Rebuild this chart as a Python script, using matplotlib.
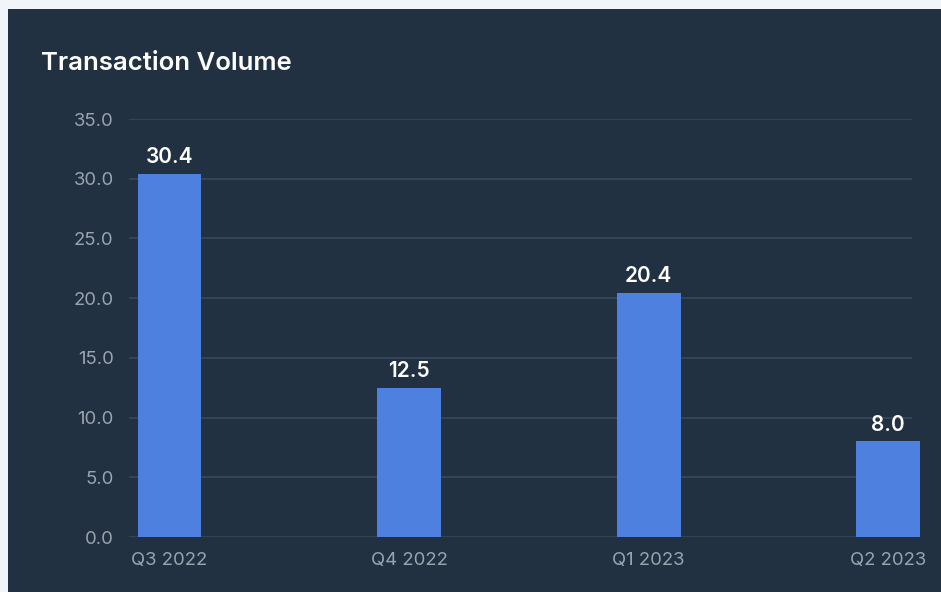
import matplotlib
matplotlib.use("Agg")
import matplotlib.pyplot as plt
from matplotlib.patches import Rectangle

categories = ["Q3 2022", "Q4 2022", "Q1 2023", "Q2 2023"]
values = [30.4, 12.5, 20.4, 8.0]
y_ticks = [0, 5, 10, 15, 20, 25, 30, 35]

BG_OUT = "#f1f4f8"
BG = "#213142"
GRID = "#34475a"
BAR = "#4e80e0"
TICK = "#9aa4af"

plt.rcParams['font.family'] = ['Inter', 'DejaVu Sans']

fig = plt.figure(figsize=(9.41, 5.92), dpi=100)
fig.patch.set_facecolor(BG_OUT)
fig.patches.append(Rectangle((8/941, 0), 1, 1 - 9/592, transform=fig.transFigure,
                             facecolor=BG, edgecolor='none', zorder=-10))

ax = fig.add_axes([129/941, 55/592, 783/941, (537-119)/592])
ax.set_facecolor('none')
x = list(range(len(categories)))
bars = ax.bar(x, values, width=0.267, color=BAR, zorder=3, clip_on=False)
ax.set_xlim(-0.169, 3.1)
ax.set_ylim(0, 35)
ax.set_yticks(y_ticks)
ax.set_yticklabels([f"{t:.1f}" for t in y_ticks])
ax.set_xticks(x)
ax.set_xticklabels(categories)
ax.grid(axis='y', color=GRID, linewidth=1.3, zorder=0)
ax.grid(axis='x', visible=False)
for s in ax.spines.values():
    s.set_visible(False)
ax.tick_params(axis='both', length=0, colors=TICK, labelsize=13.3)
ax.tick_params(axis='y', pad=11)
ax.tick_params(axis='x', pad=11)

for xi, v in zip(x, values):
    ax.annotate(f"{v:.1f}", (xi, v), xytext=(0, 5), textcoords='offset points',
                ha='center', va='bottom', color='white', fontsize=15,
                fontweight='semibold', zorder=4, annotation_clip=False)

fig.text(41/941, 1 - 64/592, "Transaction Volume", color='white', fontsize=18.5,
         fontweight='semibold', va='center', ha='left')

fig.savefig("out.png", dpi=100, facecolor=fig.get_facecolor())
